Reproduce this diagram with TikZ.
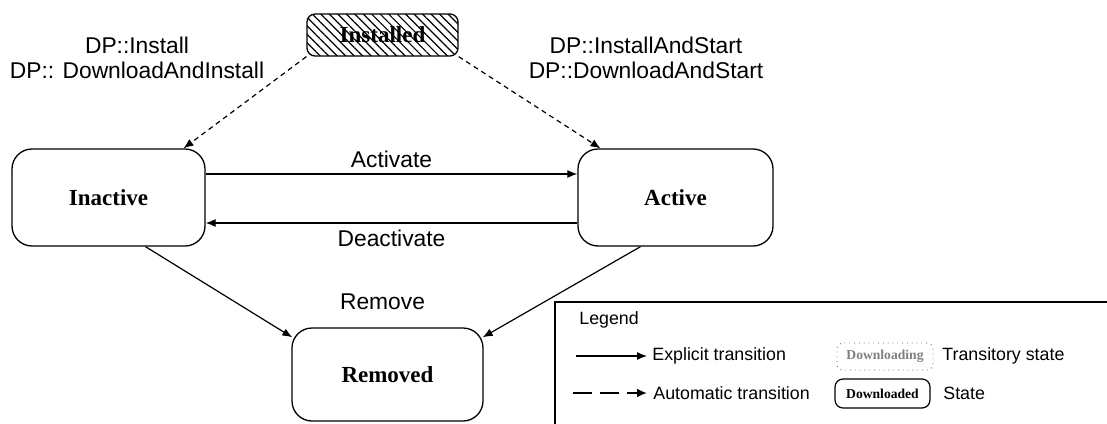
\documentclass[tikz,border=0pt]{standalone}
\usepackage{fontspec}
\setmainfont{Liberation Serif}
\setsansfont{Liberation Sans}
\usetikzlibrary{arrows.meta,calc,patterns.meta}
\tikzset{
  state/.style    = {draw, line width=0.65pt, rounded corners=10pt, inner sep=0pt,
                     minimum width=96.5pt, minimum height=48.5pt,
                     font=\bfseries\fontsize{11.5}{13}\selectfont},
  trans/.style    = {line width=0.6pt, -{Latex[length=5pt,width=4pt]}},
  autotrans/.style= {trans, dash pattern=on 2.5pt off 2pt},
  lbl/.style      = {font=\sffamily\fontsize{11.4}{12.5}\selectfont, inner sep=1pt},
  legtxt/.style   = {font=\sffamily\fontsize{8.9}{10}\selectfont, anchor=west, inner sep=0pt},
  tbox/.style     = {draw=gray!70!black, dotted, rounded corners=3pt, inner sep=0pt,
                     minimum width=48pt, minimum height=13.5pt, text=gray,
                     font=\bfseries\fontsize{6.8}{8}\selectfont},
  sbox/.style     = {draw, line width=0.6pt, rounded corners=4pt, inner sep=0pt,
                     minimum width=47.5pt, minimum height=14.5pt,
                     font=\bfseries\fontsize{6.8}{8}\selectfont},
}
\begin{document}
\begin{tikzpicture}[x=0.5pt,y=-0.5pt]
  \useasboundingbox (0,0) rectangle (1107,423);
  % states
  \node[state, minimum width=75.5pt, minimum height=21pt, rounded corners=4pt,
        pattern={Lines[angle=-45,distance=3pt,line width=0.6pt]}] (inst) at (382.5,35) {Installed};
  \node[state] (inact) at (108.5,197.5) {Inactive};
  \node[state, minimum width=97.5pt] (act) at (675.5,197.5) {Active};
  \node[state, minimum width=95.5pt, minimum height=46.5pt] (rem) at (387.5,374.5) {Removed};
  % labels of the automatic transitions
  \node[lbl, align=center] (instlbl) at (137,57.5) {DP::Install\\DP:: DownloadAndInstall};
  \node[lbl, align=center] (startlbl) at (646,57.5) {DP::InstallAndStart\\DP::DownloadAndStart};
  % transitions
  \draw[autotrans] (inst.south west) -- ($(inact.north)+(75,0)$);
  \draw[autotrans] (inst.south east) -- ($(act.north)+(-75,0)$);
  \draw[trans] ($(inact.east)+(0,-23.5)$) -- ($(act.west)+(0,-23.5)$)
    node[lbl, midway, above=2pt] (actlbl) {Activate};
  \draw[trans] ($(act.west)+(0,25.5)$) -- ($(inact.east)+(0,25.5)$)
    node[lbl, midway, below=2pt] (deactlbl) {Deactivate};
  \draw[trans] ($(inact.south)+(37,0)$) -- ($(rem.north west)+(1,10)$);
  \draw[trans] ($(act.south)+(-35,0)$) -- ($(rem.north east)+(-1,10)$);
  \node[lbl] (remlbl) at (382.5,302) {Remove};
  % legend
  \begin{scope}
    \clip (0,0) rectangle (1107,423);
    \draw[line width=0.65pt] (555,302) rectangle (1130,450);
  \end{scope}
  \node[legtxt] (legtitle) at (579,320) {Legend};
  \coordinate (exa) at (576,356);
  \coordinate (exb) at (647,356);
  \draw[trans] (exa) -- (exb);
  \node[legtxt] (extxt) at (652,356) {Explicit transition};
  \coordinate (aua) at (573,393);
  \coordinate (aub) at (647,393);
  \draw[-{Latex[length=5pt,width=4.5pt]}, line width=1.4pt, dash pattern=on 9.5pt off 4pt] (aua) -- (aub);
  \node[legtxt] (autotxt) at (653,393) {Automatic transition};
  \node[tbox] (dlg) at (885,356.5) {Downloading};
  \node[legtxt] (tstxt) at (942,356) {Transitory state};
  \node[sbox] (dld) at (882.5,393.5) {Downloaded};
  \node[legtxt] (sttxt) at (943,393) {State};
\end{tikzpicture}
\end{document}
